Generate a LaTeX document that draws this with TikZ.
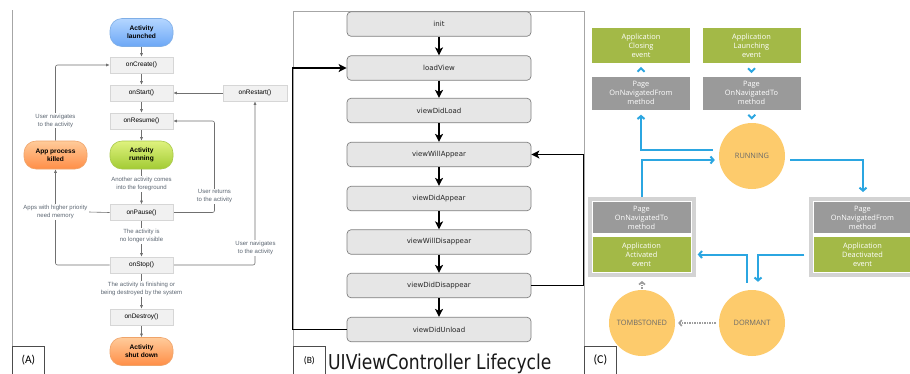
\documentclass[tikz,border=0pt]{standalone}
\usepackage{fontspec}
\usepackage{graphicx}
\setmainfont{Liberation Sans}
\newfontfamily\iosfont{DejaVu Sans}
\newfontfamily\wpfont{Open Sans}
\newfontfamily\tagfont{Carlito}
\usetikzlibrary{arrows.meta,calc,backgrounds}

% Android palette
\definecolor{aline}{HTML}{707070}
\definecolor{atext}{HTML}{5C6672}
\definecolor{aboxfill}{HTML}{F1F1F1}
\definecolor{aboxline}{HTML}{D6D6D6}
\definecolor{blueA}{HTML}{B4D6FF}
\definecolor{blueB}{HTML}{6CA7F6}
\definecolor{blueEdge}{HTML}{7FAEE6}
\definecolor{greenA}{HTML}{DFF27E}
\definecolor{greenB}{HTML}{A2CB34}
\definecolor{greenEdge}{HTML}{A9C94A}
\definecolor{orangeA}{HTML}{FFCB9A}
\definecolor{orangeB}{HTML}{FF8E47}
\definecolor{orangeEdge}{HTML}{EFA46A}
% iOS palette
\definecolor{iosfill}{HTML}{E6E6E6}
\definecolor{iosline}{HTML}{808080}
\definecolor{panelframe}{HTML}{A6A6A6}
% Windows Phone palette
\definecolor{wpgreen}{HTML}{A3B947}
\definecolor{wpgray}{HTML}{9A9A9A}
\definecolor{wpframe}{HTML}{D3D3D3}
\definecolor{wpblue}{HTML}{2BA6E1}
\definecolor{wpsun}{HTML}{FDCB6C}
\definecolor{wptext}{HTML}{6A6A6A}
\definecolor{wpdots}{HTML}{9C9C9C}

\tikzset{
  amethod/.style={draw=aboxline, fill=aboxfill, minimum width=63pt, minimum height=16pt,
    inner sep=0pt, line width=0.6pt, font=\fontsize{6.5}{7}\selectfont},
  apill/.style={rounded corners=12pt, minimum width=63pt, minimum height=28pt, inner sep=0pt,
    align=center, line width=0.6pt, font=\bfseries\fontsize{6.6}{8}\selectfont},
  anote/.style={align=center, text=atext, inner sep=1pt, font=\fontsize{6}{8}\selectfont},
  anotebg/.style={anote, fill=white},
  alink/.style={draw=aline, line width=0.6pt, rounded corners=2pt},
  aflow/.style={alink, -{Latex[length=3.5pt,width=3pt]}},
  iosbox/.style={draw=iosline, fill=iosfill, rounded corners=4pt, minimum width=184pt,
    minimum height=24.5pt, inner sep=0pt, line width=0.7pt, text=black!85,
    font=\iosfont\fontsize{7}{8}\selectfont},
  iosflow/.style={draw=black, line width=1.4pt, -{Stealth[length=8pt,width=8pt,inset=2pt]}},
  tagbox/.style={draw=black!70, fill=white, line width=0.8pt, inner sep=0pt,
    minimum width=32pt, minimum height=28pt, anchor=north west},
  wpbox/.style={minimum width=98pt, inner sep=0pt, align=center, text=white,
    font=\wpfont\fontsize{7.4}{9}\selectfont},
  wpgreenbox/.style={wpbox, fill=wpgreen, minimum height=35pt},
  wpgraybox/.style={wpbox, fill=wpgray, minimum height=33pt},
  wpholder/.style={draw=wpframe, fill=white, line width=4pt, minimum width=104pt,
    minimum height=76pt, inner sep=0pt},
  wpstate/.style={circle, fill=wpsun, minimum size=66pt, inner sep=0pt, text=wptext,
    font=\wpfont\fontsize{7.4}{8}\selectfont},
  wpflow/.style={draw=wpblue, line width=2pt, -{Straight Barb[length=3pt,width=7pt]}},
  wpchev/.style={draw=wpblue, line width=1.8pt},
  wpdot/.style={draw=wpdots, line width=1.6pt, dash pattern=on 1.5pt off 1pt,
    -{Straight Barb[length=2.5pt,width=6pt]}},
}

\begin{document}
\begin{tikzpicture}[x=1pt,y=-1pt]
\useasboundingbox (0,0) rectangle (910,373);
\begin{scope}[on background layer]
  \fill[white] (0,0) rectangle (910,373);
\end{scope}

% ---------------- (A) Android activity lifecycle ----------------
\draw[draw=black!35, line width=0.8pt] (12,10) -- (12,346);

\node[apill, top color=blueA, bottom color=blueB, draw=blueEdge] (launched) at (141.5,32.5) {Activity\\launched};
\node[amethod] (onCreate) at (141.5,65) {onCreate()};
\node[amethod] (onStart) at (141.5,93) {onStart()};
\node[amethod] (onResume) at (141.5,121) {onResume()};
\node[apill, top color=greenA, bottom color=greenB, draw=greenEdge] (actRunning) at (141.5,155) {Activity\\running};
\node[anote] (fg) at (141.5,184) {Another activity comes\\into the foreground};
\node[amethod] (onPause) at (141.5,212.5) {onPause()};
\node[anote] (hidden) at (141.5,236) {The activity is\\no longer visible};
\node[amethod] (onStop) at (141.5,265) {onStop()};
\node[anote] (finish) at (141.5,289) {The activity is finishing or\\being destroyed by the system};
\node[amethod] (onDestroy) at (141.5,317) {onDestroy()};
\node[apill, top color=orangeA, bottom color=orangeB, draw=orangeEdge] (shutdown) at (141.5,351.5) {Activity\\shut down};
\node[apill, top color=orangeA, bottom color=orangeB, draw=orangeEdge] (killed) at (55.5,155) {App process\\killed};
\node[amethod, minimum width=64pt] (onRestart) at (255,93) {onRestart()};
\node[anotebg] (navA) at (55.5,120.5) {User navigates\\to the activity};
\node[anotebg] (memory) at (55.5,212) {Apps with higher priority\\need memory};
\node[anotebg] (returns) at (214.5,196.5) {User returns\\to the activity};
\node[anotebg] (navB) at (255.5,248) {User navigates\\to the activity};

\begin{scope}[on background layer]
  \draw[aflow] (launched) -- (onCreate);
  \draw[aflow] (onCreate) -- (onStart);
  \draw[aflow] (onStart) -- (onResume);
  \draw[aflow] (onResume) -- (actRunning);
  \draw[alink] (actRunning) -- (fg);
  \draw[aflow] (fg) -- (onPause);
  \draw[alink] (onPause) -- (hidden);
  \draw[aflow] (hidden) -- (onStop);
  \draw[alink] (onStop) -- (finish);
  \draw[aflow] (finish) -- (onDestroy);
  \draw[aflow] (onDestroy) -- (shutdown);
  \draw[aflow] (onRestart) -- (onStart);
  \draw[aflow] (killed) |- (onCreate);
  \draw[aflow] (onStop) -| (killed);
  \draw[alink] (onPause.west) -- (memory.east);
  \draw[aflow] (onPause) -| (returns.center) |- (onResume);
  \draw[aflow] (onStop) -| (onRestart);
\end{scope}

\node[tagbox, font=\tagfont\fontsize{11.5}{12}\selectfont] (tagA) at (12,346) {(A)};

% ---------------- (B) UIViewController lifecycle ----------------
\draw[draw=panelframe, line width=1pt] (293,373) -- (293,11.5) -- (584,11.5) -- (584,373);

\node[iosbox] (iInit) at (439,24) {init};
\node[iosbox] (iLoad) at (439,68) {loadView};
\node[iosbox] (iDidLoad) at (439,110.5) {viewDidLoad};
\node[iosbox] (iWillApp) at (439,154.5) {viewWillAppear};
\node[iosbox] (iDidApp) at (439,198.5) {viewDidAppear};
\node[iosbox] (iWillDis) at (439,242) {viewWillDisappear};
\node[iosbox] (iDidDis) at (439,285.5) {viewDidDisappear};
\node[iosbox] (iUnload) at (439,329.5) {viewDidUnload};

\draw[iosflow] (iInit) -- (iLoad);
\draw[iosflow] (iLoad) -- (iDidLoad);
\draw[iosflow] (iDidLoad) -- (iWillApp);
\draw[iosflow] (iWillApp) -- (iDidApp);
\draw[iosflow] (iDidApp) -- (iWillDis);
\draw[iosflow] (iWillDis) -- (iDidDis);
\draw[iosflow] (iDidDis) -- (iUnload);
\draw[iosflow] (iUnload.west) -- ++(-54,0) |- (iLoad.west);
\draw[iosflow] (iDidDis.east) -- ++(52,0) |- (iWillApp.east);

\node[tagbox, font=\tagfont\fontsize{9.5}{10}\selectfont] (tagB) at (293,346) {(B)};
\node[anchor=base west, inner sep=0pt, text=black!90, font=\iosfont\fontsize{20.5}{24}\selectfont]
  (title) at (328,369) {\scalebox{0.836}[1]{UIViewController Lifecycle}};

% ---------------- (C) Windows Phone application lifecycle ----------------
\node[wpgreenbox] (wpClosing) at (641,45.5) {Application\\Closing\\event};
\node[wpgreenbox] (wpLaunching) at (751.5,45.5) {Application\\Launching\\event};
\node[wpgraybox] (wpFromTop) at (641,93) {Page\\OnNavigatedFrom\\method};
\node[wpgraybox] (wpToTop) at (751.5,93) {Page\\OnNavigatedTo\\method};

\node[wpholder] (wpLeft) at (642,237) {};
\node[wpgraybox, minimum height=31pt] (wpToLeft) at (641.5,217.5) {Page\\OnNavigatedTo\\method};
\node[wpgreenbox] (wpActivated) at (641.5,254.5) {Application\\Activated\\event};

\node[wpholder] (wpRight) at (863,237) {};
\node[wpgraybox, minimum height=31pt] (wpFromRight) at (862.5,217.5) {Page\\OnNavigatedFrom\\method};
\node[wpgreenbox] (wpDeactivated) at (862.5,254.5) {Application\\Deactivated\\event};

\node[wpstate] (wpRunning) at (752,156) {RUNNING};
\node[wpstate] (wpDormant) at (752,323) {DORMANT};
\node[wpstate] (wpTomb) at (642,323) {TOMBSTONED};

% chevrons between stacked event boxes
\draw[wpchev] ($(wpClosing.south)!0.5!(wpFromTop.north)$) ++(-3.5,2) -- ++(3.5,-3.5) -- ++(3.5,3.5);
\draw[wpchev] ($(wpLaunching.south)!0.5!(wpToTop.north)$) ++(-3.5,-1.5) -- ++(3.5,3.5) -- ++(3.5,-3.5);
\draw[wpchev] ($(wpToTop.south)!0.5!(wpRunning.north)$) ++(-3.5,-1.5) -- ++(3.5,3.5) -- ++(3.5,-3.5);

% transitions
\draw[wpflow, shorten >=5pt] ($(wpRunning.west)+(-6,-6)$) -| (wpFromTop.south);
\draw[wpflow] (wpLeft.north) |- ($(wpRunning.west)+(-4,4)$);
\draw[wpflow, shorten >=5pt] ($(wpRunning.east)+(5,4)$) -| (wpRight.north);
\draw[wpflow] ($(wpDormant.north)+(-5,-7)$) |- ($(wpActivated.east)+(7,0)$);
\draw[wpflow] ($(wpDeactivated.west)+(-9,0)$) -| ($(wpDormant.north)+(6,-8)$);
\draw[wpdot] ($(wpDormant.west)+(-3,0)$) -- ($(wpTomb.east)+(3,0)$);
\draw[wpdot] ($(wpTomb.north)+(0,-1)$) -- ($(wpLeft.south)+(0,4)$);

\node[tagbox, font=\tagfont\fontsize{12}{13}\selectfont] (tagC) at (584,346) {(C)};
\end{tikzpicture}
\end{document}
